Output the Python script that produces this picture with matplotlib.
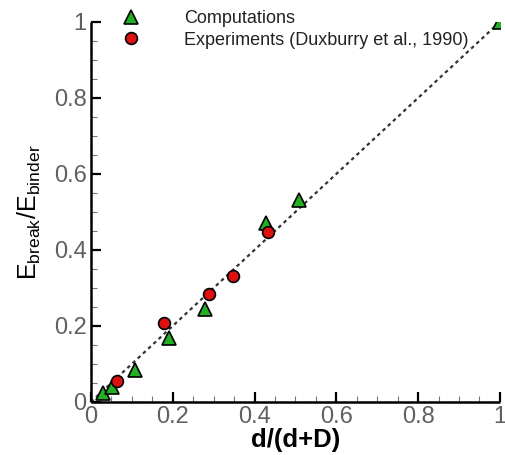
import matplotlib
matplotlib.use("Agg")
import matplotlib.pyplot as plt
from matplotlib.ticker import MultipleLocator

plt.rcParams["font.family"] = ["Liberation Sans", "DejaVu Sans"]
plt.rcParams["mathtext.fontset"] = "custom"
plt.rcParams["mathtext.rm"] = "Liberation Sans"

# ── Data ─────────────────────────────────────────────────────────────────────
comp_x = [0.029, 0.051, 0.108, 0.19, 0.279, 0.428, 0.509, 1.0]
comp_y = [0.024, 0.040, 0.084, 0.168, 0.245, 0.471, 0.532, 1.0]

exp_x = [0.064, 0.178, 0.289, 0.347, 0.433]
exp_y = [0.055, 0.208, 0.284, 0.332, 0.447]

fit_x = [0.0, 1.0]
fit_y = [0.0, 1.0]

tick_vals = [0, 0.2, 0.4, 0.6, 0.8, 1.0]
tick_text = ["0", "0.2", "0.4", "0.6", "0.8", "1"]

TICK_GREY = "#606060"

fig = plt.figure(figsize=(5.05, 4.55), dpi=100)
ax = fig.add_axes([0.180, 0.1165, 0.810, 0.8355])

ax.plot(fit_x, fit_y, color="#333333", lw=1.6, dashes=(1.6, 1.6), zorder=2)
ax.plot(comp_x, comp_y, "^", ms=10.5, mfc="#22b022", mec="black", mew=1.2,
        ls="none", label="Computations", zorder=3)
ax.plot(exp_x, exp_y, "o", ms=8.5, mfc="#dd1111", mec="black", mew=1.2,
        ls="none", label="Experiments (Duxburry et al., 1990)", zorder=4)

ax.set_xlim(0, 1)
ax.set_ylim(0, 1)
ax.xaxis.set_minor_locator(MultipleLocator(0.05))
ax.yaxis.set_minor_locator(MultipleLocator(0.05))
ax.set_xticks(tick_vals, tick_text)
ax.set_yticks(tick_vals, tick_text)

for side in ("top", "right"):
    ax.spines[side].set_visible(False)
for side in ("left", "bottom"):
    ax.spines[side].set_linewidth(1.8)
    ax.spines[side].set_capstyle("butt")

ax.tick_params(which="major", direction="in", length=7, width=1.6,
               labelsize=17, labelcolor=TICK_GREY, pad=3)
ax.tick_params(which="minor", direction="in", length=4, width=0.8, color="#777777")

ax.set_xlabel("d/(d+D)", fontsize=18.5, fontweight="bold", labelpad=0)
ax.set_ylabel(r"$\mathregular{E_{break}/E_{binder}}$", fontsize=18, labelpad=8)

leg = ax.legend(loc="upper left", bbox_to_anchor=(0.059, 1.05), frameon=False,
                handlelength=1.0, handletextpad=2.4, labelspacing=0.25,
                fontsize=13, borderaxespad=0)
for t in leg.get_texts():
    t.set_color("#222222")

fig.savefig("out.png", dpi=100)
